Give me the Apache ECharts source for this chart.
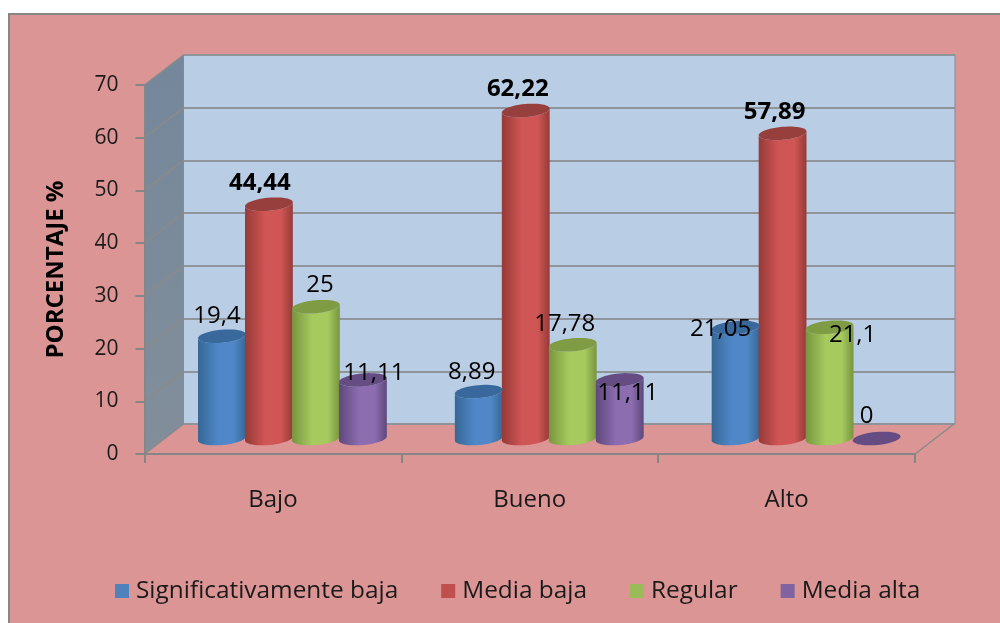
<!DOCTYPE html>
<html><head><meta charset="utf-8">
<style>html,body{margin:0;padding:0;background:#fff}#c{width:1000px;height:623px}</style>
<script src="https://cdn.jsdelivr.net/npm/echarts@6/dist/echarts.min.js"></script>
</head><body><div id="c"></div>
<script>
const categories = ['Bajo', 'Bueno', 'Alto'];
const seriesNames = ['Significativamente baja', 'Media baja', 'Regular', 'Media alta'];
const significativamenteBaja = [19.4, 8.89, 21.05];
const mediaBaja = [44.44, 62.22, 57.89];
const regular = [25, 17.78, 21.1];
const mediaAlta = [11.11, 11.11, 0];
const yTicks = [0, 10, 20, 30, 40, 50, 60, 70];

// drawing style and hand placement of the labels, not data
const FONT = '"Open Sans", sans-serif';
const DEPTH = [39, -30], MID = [19.5, -15.5], STEP = 47, RX = 24, RY = 6.5, TILT = 0.09;
const palettes = [
  {edge: '#376795', mid: '#4f87c8', top: '#39699c', legend: '#4f81bd'},
  {edge: '#963a38', mid: '#cf5654', top: '#973f3c', legend: '#c0504d'},
  {edge: '#78953f', mid: '#a6ca5e', top: '#7f9c45', legend: '#9bbb59'},
  {edge: '#5f487c', mid: '#8b6db0', top: '#654d84', legend: '#8064a2'}
];
const labelShift = [
  [[-5, -20], [-7, -19], [-15, 2]],
  [[-9, -21], [-8, -21], [-8, -21]],
  [[4, -22], [-8, -21], [23, 8]],
  [[11, -7], [8, 13], [-10, -22]]
];
const labelBold = [
  [false, false, false],
  [true, true, true],
  [false, false, false],
  [false, false, false]
];

function ellipsePoint(cx, cy, t) {
  const x = RX * Math.cos(t), y = RY * Math.sin(t);
  return [cx + x * Math.cos(TILT) + y * Math.sin(TILT), cy - x * Math.sin(TILT) + y * Math.cos(TILT)];
}
function barRenderer(s) {
  return function (params, api) {
    const i = api.value(0), v = api.value(1);
    const base = api.coord([i, 0]), top = api.coord([i, v]);
    const cx = base[0] + MID[0] + (s - 1.5) * STEP;
    const yb = base[1] + MID[1], yt = top[1] + MID[1];
    const p = palettes[s];
    const grad = {type: 'linear', x: 0, y: 0, x2: 1, y2: 0, colorStops: [
      {offset: 0, color: p.edge}, {offset: 0.42, color: p.mid}, {offset: 0.75, color: p.mid}, {offset: 1, color: p.edge}]};
    const pts = [];
    const n = 24;
    for (let k = 0; k <= n; k++) pts.push(ellipsePoint(cx, yb, Math.PI - Math.PI * k / n));
    for (let k = 0; k <= n; k++) pts.push(ellipsePoint(cx, yt, Math.PI * k / n));
    const topPts = [];
    for (let k = 0; k < 48; k++) topPts.push(ellipsePoint(cx, yt, 2 * Math.PI * k / 48));
    const shift = labelShift[s][i];
    const children = [];
    if (v > 0) children.push({type: 'polygon', shape: {points: pts}, style: {fill: grad}, z2: 1});
    children.push({type: 'polygon', shape: {points: topPts}, style: {fill: p.top}, z2: 2});
    children.push({type: 'text', z2: 100, style: {
      text: String(v).replace('.', ','), x: cx + shift[0], y: yt + shift[1],
      align: 'center', verticalAlign: 'middle', fill: '#000',
      font: (labelBold[s][i] ? 'bold 24px ' : '24px ') + FONT}});
    return {type: 'group', children};
  };
}
function wallRenderer(params, api) {
  const v = api.value(1);
  const band = api.size([1, 0])[0];
  const c0 = api.coord([0, 0]), c70 = api.coord([0, 70]), cLast = api.coord([categories.length - 1, 0]);
  const left = c0[0] - band / 2, right = cLast[0] + band / 2;
  const y = api.coord([0, v])[1];
  const line = {stroke: '#8a8a8a', lineWidth: 1.5};
  const kids = [];
  if (params.dataIndex === 0) {
    kids.push({type: 'polygon', z2: 0, shape: {points: [
      [left, c0[1]], [left, c70[1]], [left + DEPTH[0], c70[1] + DEPTH[1]], [left + DEPTH[0], c0[1] + DEPTH[1]]]},
      style: {fill: {type: 'linear', x: 0, y: 0, x2: 0, y2: 1, colorStops: [{offset: 0, color: '#74879b'}, {offset: 1, color: '#828e9a'}]}}});
    kids.push({type: 'line', z2: 1, shape: {x1: right, y1: c0[1], x2: right + DEPTH[0], y2: c0[1] + DEPTH[1]}, style: line});
  }
  kids.push({type: 'line', z2: 1, shape: {x1: left, y1: y, x2: left + DEPTH[0], y2: y + DEPTH[1]}, style: line});
  return {type: 'group', children: kids};
}

const valueSets = [significativamenteBaja, mediaBaja, regular, mediaAlta];
const chart = echarts.init(document.getElementById('c'), null, {renderer: 'canvas'});
chart.setOption({
  animation: false,
  backgroundColor: '#fff',
  graphic: [{type: 'rect', z: -10, silent: true, shape: {x: 9, y: 14, width: 1100, height: 700},
    style: {fill: '#db9594', stroke: '#868686', lineWidth: 2}}],
  grid: [
    {left: 144.5, right: 85, top: 85, bottom: 169, show: false},
    {left: 183.5, right: 45, top: 55, bottom: 199, show: true, z: 0, backgroundColor: '#b9cde5', borderColor: '#8a8a8a', borderWidth: 1}
  ],
  xAxis: [
    {type: 'category', gridIndex: 0, data: categories, z: 5,
      axisLine: {show: true, lineStyle: {color: '#868686', width: 2}},
      axisTick: {show: true, length: 9, lineStyle: {color: '#868686', width: 2}},
      axisLabel: {color: '#1a1a1a', fontFamily: FONT, fontSize: 24, margin: 34}},
    {type: 'value', gridIndex: 1, min: 0, max: 1, show: false}
  ],
  yAxis: [
    {type: 'value', gridIndex: 0, min: 0, max: 70, interval: 10, z: 5,
      name: 'PORCENTAJE %', nameLocation: 'middle', nameGap: 76, nameRotate: 90,
      nameTextStyle: {color: '#000', fontFamily: FONT, fontSize: 24, fontWeight: 'bold'},
      axisLine: {show: true, lineStyle: {color: '#868686', width: 2}},
      axisTick: {show: true, length: 9, lineStyle: {color: '#868686', width: 2}},
      axisLabel: {color: '#1a1a1a', fontFamily: FONT, fontSize: 21, margin: 26, padding: [6, 0, 0, 0]},
      splitLine: {show: false}},
    {type: 'value', gridIndex: 1, min: 0, max: 70, interval: 10,
      axisLine: {show: false}, axisTick: {show: false}, axisLabel: {show: false},
      splitLine: {show: true, lineStyle: {color: '#8e9499', width: 2}}}
  ],
  legend: {
    left: 110, top: 574, itemWidth: 14, itemHeight: 14, itemGap: 43, icon: 'rect',
    data: seriesNames,
    textStyle: {color: '#1a1a1a', fontFamily: FONT, fontSize: 24.4, padding: [0, 0, 0, 2]}
  },
  series: [
    {type: 'custom', name: 'wall', z: 1, xAxisIndex: 0, yAxisIndex: 0, silent: true, clip: false,
      renderItem: wallRenderer, encode: {x: 0, y: 1}, data: yTicks.map(t => [0, t])}
  ].concat(seriesNames.map((name, s) => ({
    type: 'custom', name, z: 2, xAxisIndex: 0, yAxisIndex: 0, clip: false,
    itemStyle: {color: palettes[s].legend},
    renderItem: barRenderer(s), encode: {x: 0, y: 1},
    data: valueSets[s].map((v, i) => [i, v])
  })))
});
</script></body></html>
